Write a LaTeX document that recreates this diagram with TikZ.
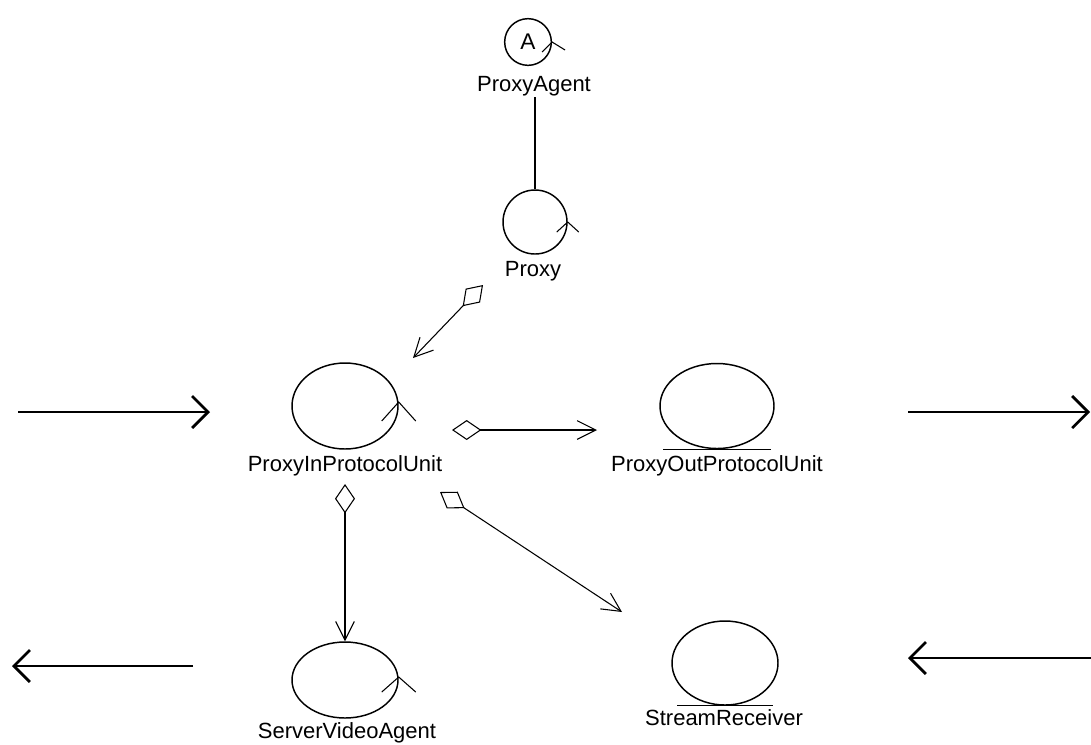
\documentclass[tikz,border=0pt]{standalone}
\usepackage{fontspec}
\setmainfont{Liberation Sans}
\usetikzlibrary{arrows.meta,shapes.geometric,calc}
\begin{document}
\begin{tikzpicture}[x=0.75pt,y=-0.75pt,
  cls/.style={draw,ellipse,line width=1.1pt,inner sep=0pt},
  ccls/.style={draw,circle,line width=1.1pt,inner sep=0pt},
  lbl/.style={font=\fontsize{16.5}{18}\selectfont,inner sep=1pt},
  agg/.style={line width=0.8pt,
    {Diamond[open,length=22pt,width=15pt,line width=0.8pt]}-{Straight Barb[length=14pt,width=14pt,line width=0.8pt]}},
  flow/.style={line width=2pt,-{Straight Barb[length=12pt,width=24pt]}},
  tick/.style={line width=0.8pt},
  ent/.style={line width=1.1pt}
]
\useasboundingbox (0,0) rectangle (1091,744);

% classes
\node[ccls,minimum size=35pt] (agent) at (528,42) {\fontsize{17}{17}\selectfont A};
\node[lbl] (agentlbl) at (534,86) {ProxyAgent};
\node[ccls,minimum size=48pt] (proxy) at (535,222) {};
\node[lbl] (proxylbl) at (533,271) {Proxy};
\node[cls,minimum width=79.5pt,minimum height=64.5pt] (in) at (345,406) {};
\node[lbl] (inlbl) at (345,466) {ProxyInProtocolUnit};
\node[cls,minimum width=85.5pt,minimum height=63.75pt] (out) at (717,406) {};
\node[lbl] (outlbl) at (717,466) {ProxyOutProtocolUnit};
\node[cls,minimum width=79.5pt,minimum height=57pt] (svr) at (345,680) {};
\node[lbl] (svrlbl) at (347,733) {ServerVideoAgent};
\node[cls,minimum width=79.5pt,minimum height=63pt] (sr) at (725,663) {};
\node[lbl] (srlbl) at (724,718) {StreamReceiver};

% control marks
\draw[tick] ($(agent.east)+(-10,10)$) -- (agent.east) -- ($(agent.east)+(13,8)$);
\draw[tick] ($(proxy.east)+(-11,10)$) -- (proxy.east) -- ($(proxy.east)+(11,10)$);
\draw[tick] ($(in.east)+(-17,15)$) -- ($(in.east)+(0,-4)$) -- ($(in.east)+(17,15)$);
\draw[tick] ($(svr.east)+(-17,12)$) -- ($(svr.east)+(0,-3)$) -- ($(svr.east)+(17,12)$);

% entity marks
\draw[ent] ($(out.south)+(-54,0)$) -- ($(out.south)+(54,0)$);
\draw[ent] ($(sr.south)+(-48,0)$) -- ($(sr.south)+(48,0)$);

% association
\draw[line width=0.8pt] (agentlbl.south -| proxy.north) -- (proxy.north);

% aggregations
\coordinate (a1s) at (483,285);
\coordinate (a1e) at (413,358);
\draw[agg] (a1s) -- (a1e);
\coordinate (a2s) at (452,430);
\coordinate (a2e) at (597,430);
\draw[agg] (a2s) -- (a2e);
\coordinate (a3s) at (440,492);
\coordinate (a3e) at (622,612);
\draw[agg] (a3s) -- (a3e);
\coordinate (a4s) at (345,484);
\draw[agg] (a4s) -- (svr.north);

% message flows
\coordinate (f1s) at (18,412);
\coordinate (f1e) at (210,412);
\draw[flow] (f1s) -- (f1e);
\coordinate (f2s) at (908,412);
\coordinate (f2e) at (1090,412);
\draw[flow] (f2s) -- (f2e);
\coordinate (f3s) at (193,666);
\coordinate (f3e) at (12,666);
\draw[flow] (f3s) -- (f3e);
\coordinate (f4s) at (1091,658);
\coordinate (f4e) at (908,658);
\draw[flow] (f4s) -- (f4e);
\end{tikzpicture}
\end{document}
